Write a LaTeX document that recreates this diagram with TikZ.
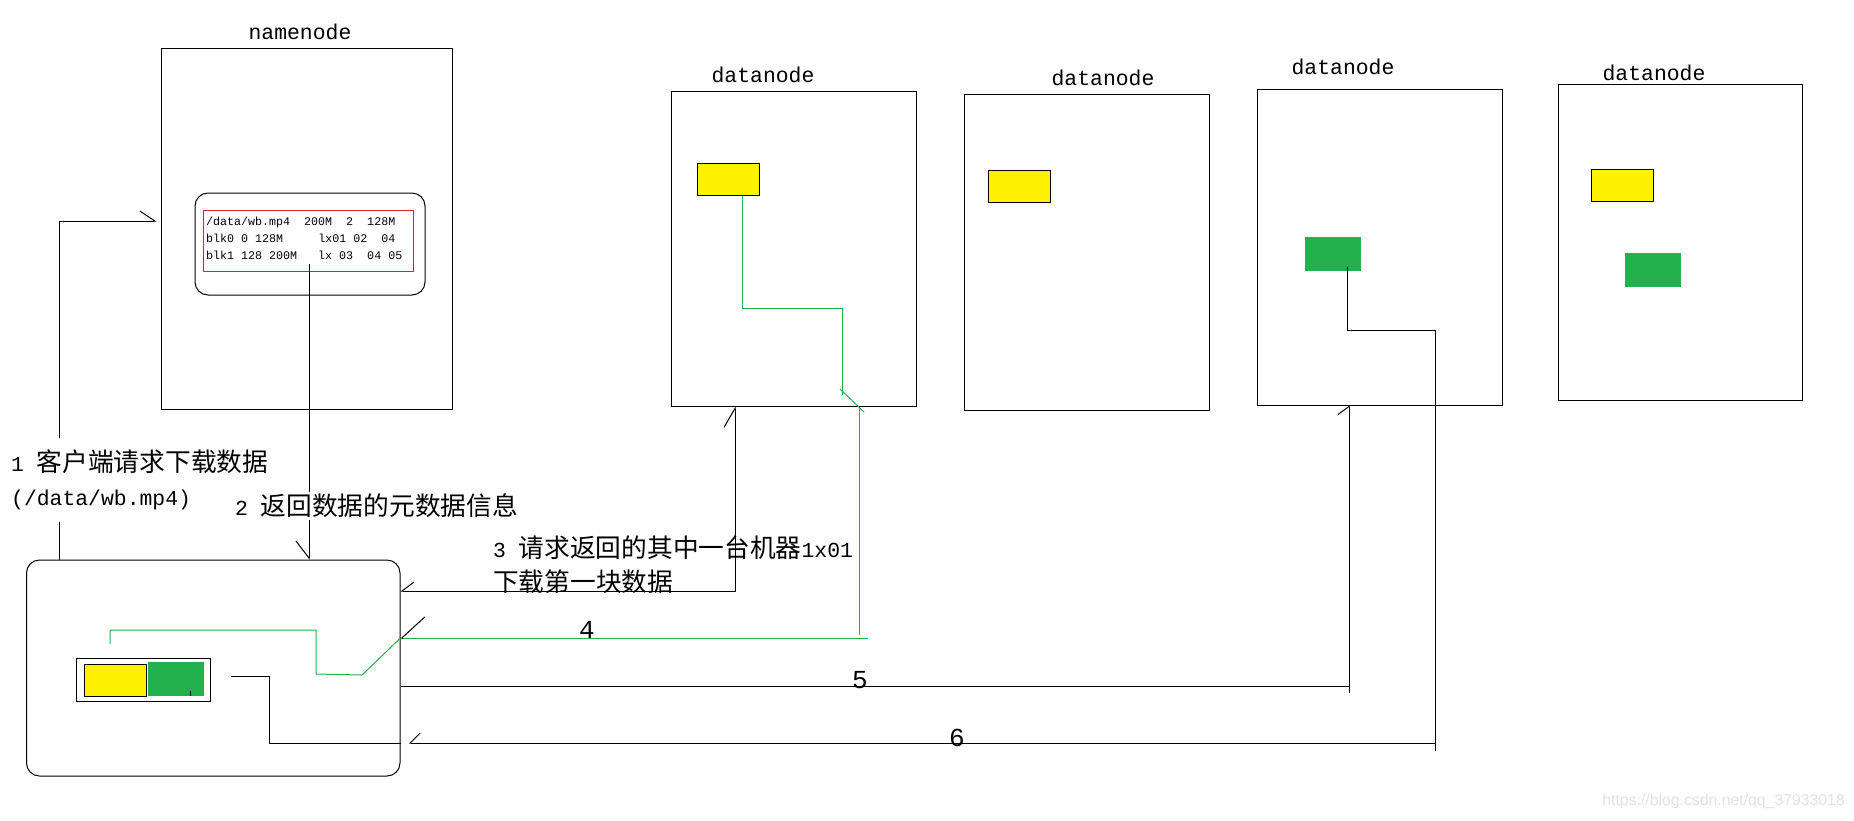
\documentclass[tikz,border=0pt]{standalone}
\usepackage{fontspec}
\newfontfamily\zhfont{Noto Sans CJK SC}
\newfontfamily\enfont{Liberation Mono}
\newfontfamily\wmfont{Liberation Sans}
\usetikzlibrary{arrows.meta}
\definecolor{pyellow}{RGB}{255,242,0}
\definecolor{pgreen}{RGB}{34,177,76}
\definecolor{pred}{RGB}{237,28,36}
\definecolor{wmgray}{RGB}{226,226,226}
\newcommand\entxt[1]{{\fontsize{21.4}{34}\selectfont\enfont #1}}

\begin{document}
\begin{tikzpicture}[x=1pt,y=-1pt,
  box/.style={draw,line width=1pt,inner sep=0pt},
  yblk/.style={box,fill=pyellow,minimum width=62pt,minimum height=32pt},
  gblk/.style={inner sep=0pt,fill=pgreen,minimum width=56pt,minimum height=34pt},
  wire/.style={line width=1pt},
  flow/.style={line width=1pt,draw=pgreen},
  barbl/.style 2 args={-{Straight Barb[harpoon,length=#1,width=#2]}},
  barbr/.style 2 args={-{Straight Barb[harpoon,swap,length=#1,width=#2]}},
  tag/.style={inner sep=0pt,font=\fontsize{21.4}{26}\selectfont\enfont},
  num/.style={inner sep=0pt,font=\fontsize{26}{30}\selectfont\enfont},
  lbl/.style={inner sep=0pt,align=left,font=\fontsize{25.7}{34}\selectfont\zhfont},
  row/.style={inner sep=0pt,anchor=base west,font=\fontsize{11.67}{14}\selectfont\enfont}]
\useasboundingbox (0,0) rectangle (1854,820);
\fill[white] (0,0) rectangle (1854,820);

\node[box,minimum width=291pt,minimum height=361pt] (nn) at (306.5,228.5) {};
\node[tag] (nntitle) at (300,32) {namenode};
\node[box,rounded corners=13pt,minimum width=230pt,minimum height=102pt] (meta) at (310,244) {};
\node[box,draw=pred,minimum width=210pt,minimum height=61pt] (tbl) at (308,240.5) {};
\node[row] (row1) at (206,225.5) {/data/wb.mp4~~200M~~2~~128M};
\node[row] (row2) at (206,242) {blk0~0~128M~~~~~lx01~02~~04};
\node[row] (row3) at (206,259) {blk1~128~200M~~~lx~03~~04~05};

\node[box,minimum width=245pt,minimum height=315pt] (dn1) at (793.5,248.5) {};
\node[box,minimum width=245pt,minimum height=316pt] (dn2) at (1086.5,252) {};
\node[box,minimum width=245pt,minimum height=316pt] (dn3) at (1379.5,247) {};
\node[box,minimum width=244pt,minimum height=316pt] (dn4) at (1680,242) {};
\node[tag] (dn1title) at (763,75) {datanode};
\node[tag] (dn2title) at (1103,78) {datanode};
\node[tag] (dn3title) at (1343,67) {datanode};
\node[tag] (dn4title) at (1654,73) {datanode};
\node[yblk] (y1) at (728,179) {};
\node[yblk] (y2) at (1019.5,186) {};
\node[gblk] (g3) at (1333,254) {};
\node[yblk] (y4) at (1622.5,185) {};
\node[gblk] (g4) at (1653,270) {};

\node[box,rounded corners=13pt,minimum width=373.5pt,minimum height=216pt] (client) at (213.25,668) {};
\node[box,fill=white,minimum width=134pt,minimum height=43pt] (cblk) at (143,679.5) {};
\node[yblk] (cy) at (115,680.5) {};
\node[gblk] (cg) at (175.75,679) {};

\coordinate (l1) at (59,221);
\coordinate (l2) at (309,264);
\coordinate (l3) at (735,591);
\coordinate (l5) at (1349,686);
\coordinate (l6a) at (1435,330);
\coordinate (l6b) at (1435,743);
\coordinate (l6c) at (409,743);
\coordinate (c6) at (269,676);
\coordinate (f1) at (742,308);
\coordinate (f2) at (842,395);
\coordinate (f3) at (859,638);
\coordinate (f4) at (362,675);
\coordinate (f5) at (316,674);
\coordinate (f6) at (110,630);

\draw[wire,barbl={15pt}{20pt},shorten >=4pt] (client.north -| l1) |- (nn.west |- l1);
\draw[wire,barbr={17pt}{26pt}] (l2) -- (l2 |- client.north);
\draw[wire,{Straight Barb[harpoon,swap,length=12pt,width=18pt]}-{Straight Barb[harpoon,length=19pt,width=22pt]}] (client.east |- l3) -| (dn1.south -| l3);

\draw[flow] (y1.south -| f1) -- (f1) -| (f2);
\draw[flow] ([shift={(-2,-6)}]f2) -- ++(24,23);
\draw[flow] (dn1.south -| f3) -- ([yshift=3pt]f3);
\draw[flow,-{Straight Barb[harpoon,swap,length=23pt,width=42pt,color=black]}] ([xshift=9pt]f3) -- (client.east |- f3);
\draw[flow] (client.east |- f3) -- (f4) -- (f5) |- (f6) -- ++(0,14);

\draw[wire,barbl={8pt}{22pt}] (client.east |- l5) -| (dn3.south -| l5);
\draw[wire] (l5) -- ++(0,7);
\draw[wire,barbr={10pt}{20pt}] ([xshift=14pt,yshift=4pt]g3.south) |- (l6a) -- (l6b) -- (l6c);
\draw[wire] (l6b) -- ++(0,8);
\draw[wire] (client.east |- l6b) -| (c6) -- ++(-38,0);
\draw[wire] ([xshift=15pt]cg.south) -- ++(0,-5);

\node[lbl,fill=white,inner ysep=12pt,anchor=west] (ask) at (11,480) {\entxt{1 }客户端请求下载数据\\\entxt{(/data/wb.mp4)}};
\node[lbl,fill=white,inner ysep=2pt,anchor=west] (answer) at (235,506) {\entxt{2 }返回数据的元数据信息};
\node[lbl,anchor=west] (fetch) at (493,564.5) {\entxt{3 }请求返回的其中一台机器\entxt{1x01}\\下载第一块数据};
\node[num] (n4) at (587,630) {4};
\node[num] (n5) at (860,680) {5};
\node[num] (n6) at (957,738) {6};
\node[inner sep=0pt,anchor=east,text=wmgray,font=\fontsize{15.8}{18}\selectfont\wmfont] (mark) at (1845,801) {https://blog.csdn.net/qq\_37933018};
\end{tikzpicture}
\end{document}
